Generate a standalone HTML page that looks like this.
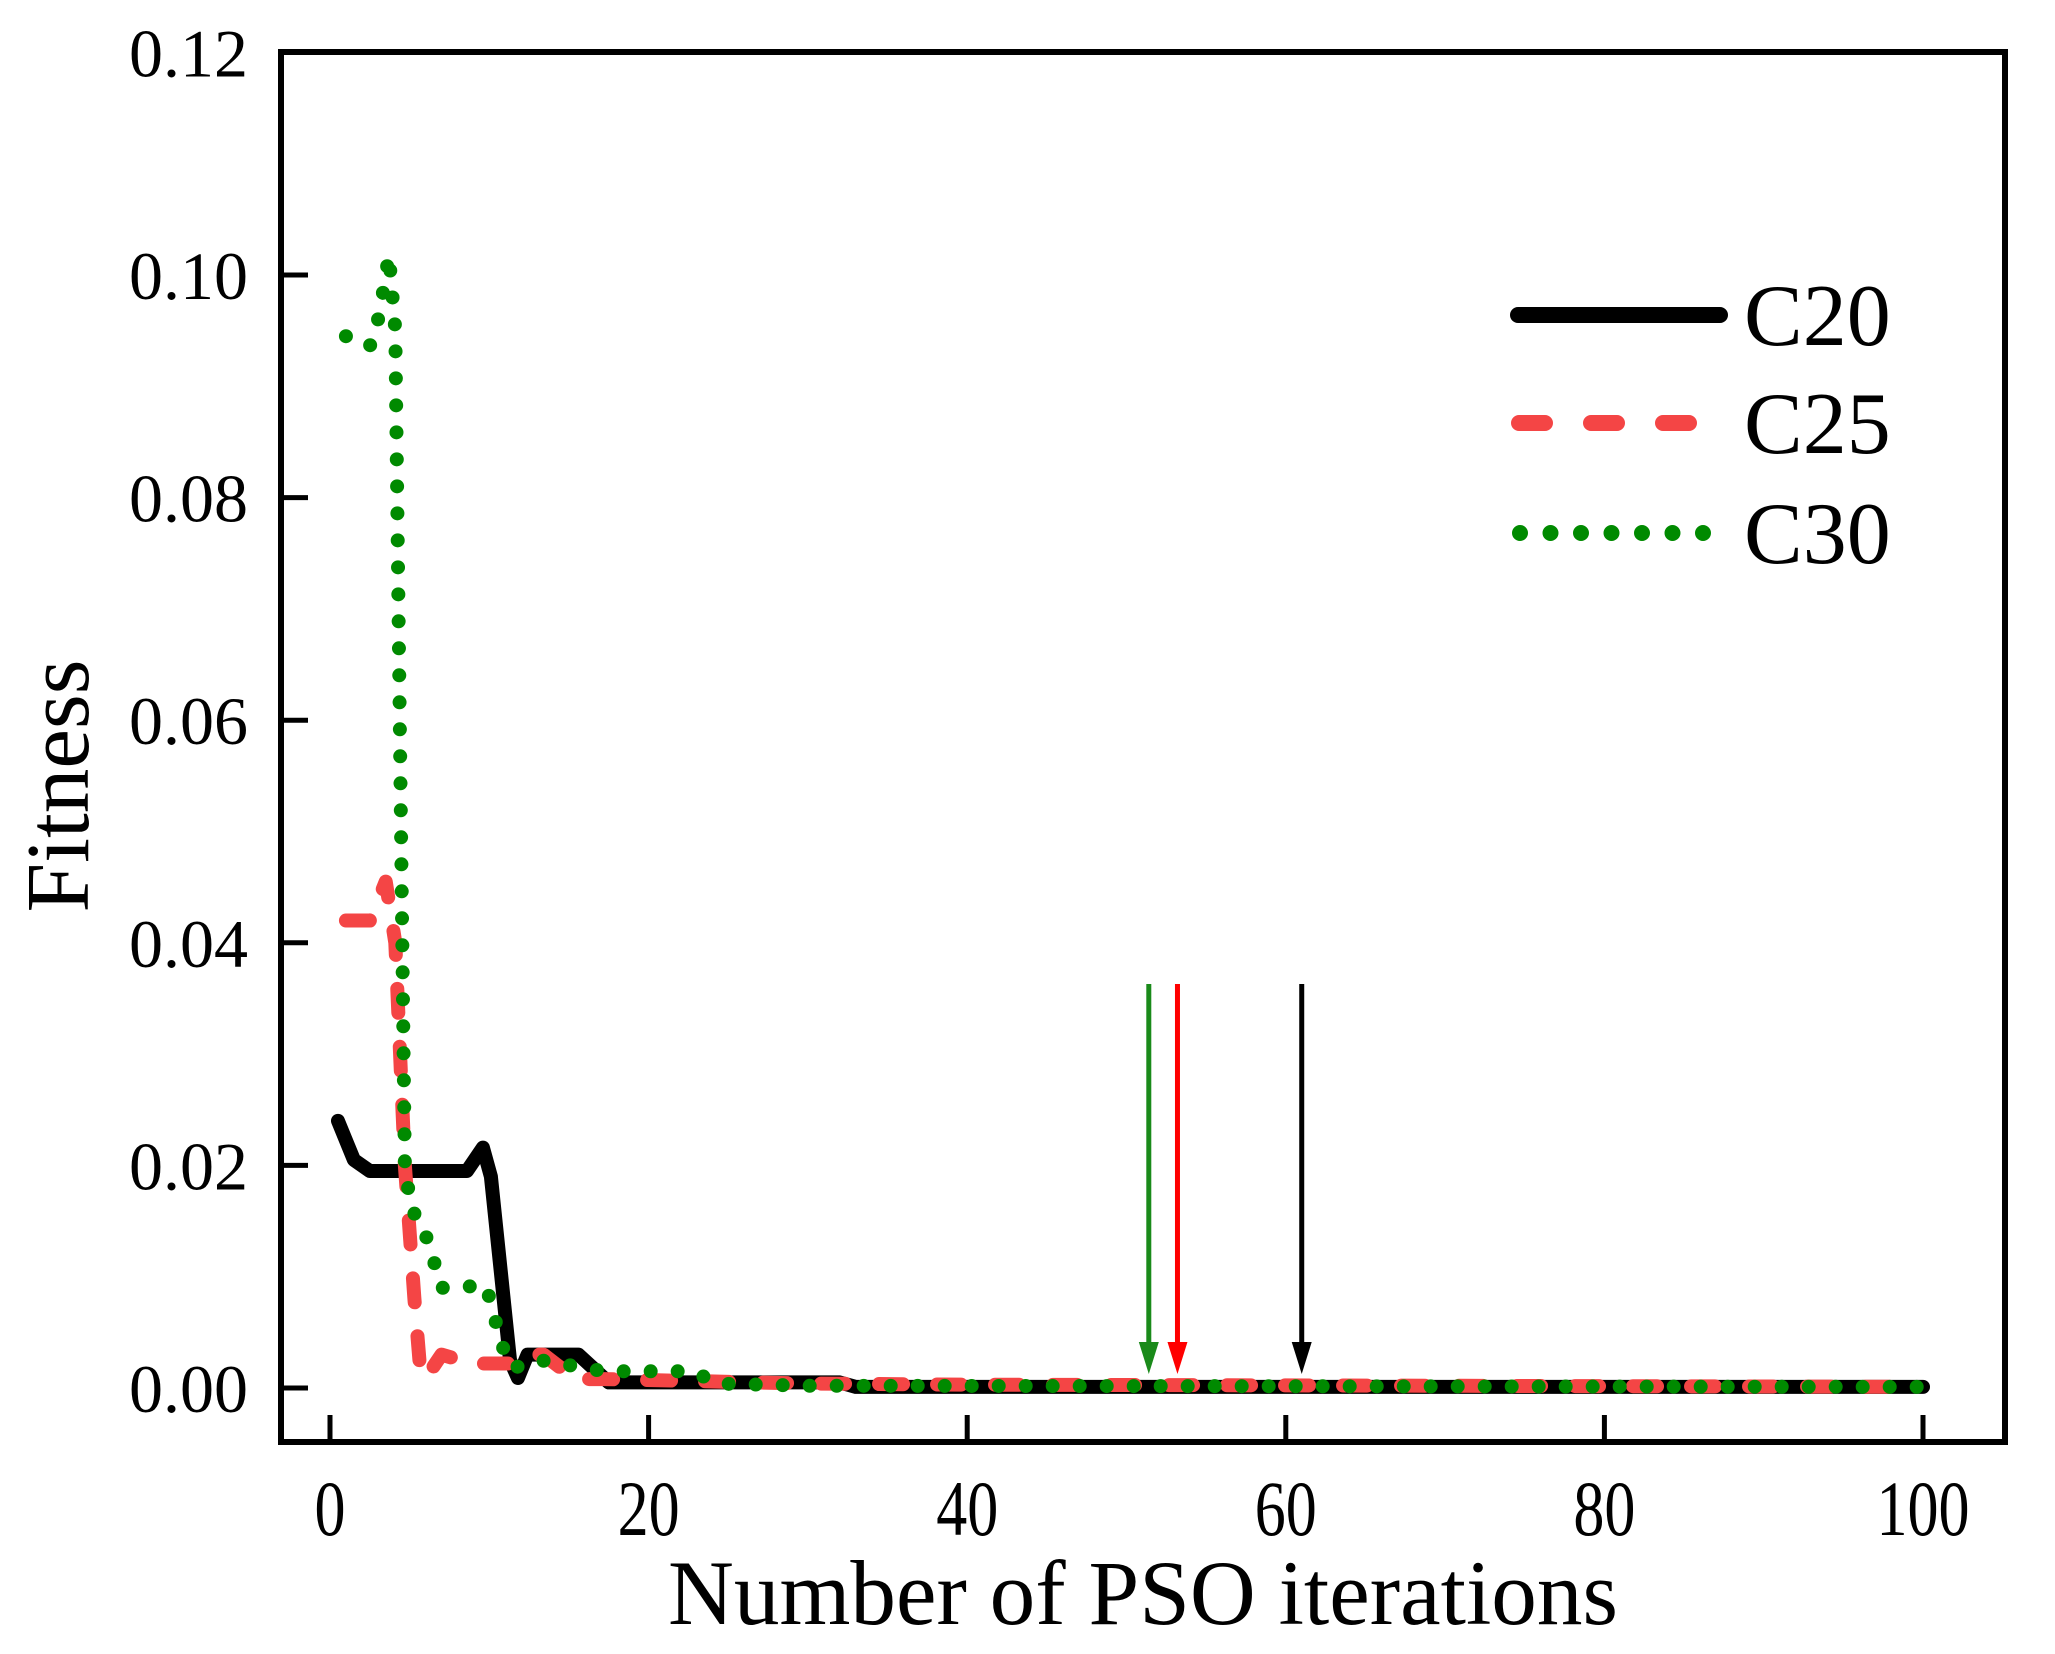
<!DOCTYPE html>
<html><head><meta charset="utf-8"><style>
html,body{margin:0;padding:0;background:#fff;}
svg{display:block;font-family:"Liberation Serif",serif;}
</style></head><body>
<svg id="chart" width="2055" height="1654" viewBox="0 0 2055 1654" xmlns="http://www.w3.org/2000/svg">
<rect x="0" y="0" width="2055" height="1654" fill="#fff"/>
<g id="series"></g>
<g id="axes"></g>
<text x="1143" y="1624" font-size="92" text-anchor="middle" textLength="950" lengthAdjust="spacingAndGlyphs">Number of PSO iterations</text>
<text transform="translate(88,786) rotate(-90)" font-size="90" text-anchor="middle" textLength="253" lengthAdjust="spacingAndGlyphs">Fitness</text>
<g>
<line x1="1518" y1="315" x2="1720" y2="315" stroke="#000" stroke-width="16" stroke-linecap="round"/>
<text x="1744" y="345" font-size="88">C20</text>
<line x1="1519" y1="423" x2="1697" y2="423" stroke="#f44545" stroke-width="16" stroke-linecap="round" stroke-dasharray="26 46"/>
<text x="1744" y="453" font-size="88">C25</text>
<line x1="1520" y1="533" x2="1713" y2="533" stroke="#008a00" stroke-width="16" stroke-linecap="round" stroke-dasharray="0 30.5"/>
<text x="1744" y="563" font-size="88">C30</text>
</g>
</svg>
<script>
const xTicks=[0,20,40,60,80,100];
const yTicks=[0,0.02,0.04,0.06,0.08,0.10,0.12];
const yTickLabels=["0.00","0.02","0.04","0.06","0.08","0.10","0.12"];
const c20X=[0.5,1.5,2.5,8.6,9.6,10.1,11.3,11.8,12.4,15.6,17.5,32,33,100];
const c20Y=[0.024,0.0205,0.0195,0.0195,0.0216,0.019,0.0025,0.0009,0.003,0.003,0.0005,0.0005,0.0001,0.0001];
const c25X=[1,2.5,3.5,4.1,4.4,4.7,5.3,5.7,6.2,7,8.9,11.3,12.2,13.4,15.4,17.2,30,40,100];
const c25Y=[0.042,0.042,0.0455,0.04,0.03,0.02,0.008,0.001,0.0013,0.003,0.0022,0.0022,0.003,0.003,0.0008,0.0008,0.0004,0.0003,0.0001];
const c30X=[1,2.5,3.1,3.7,4.1,4.7,5.1,5.7,6.3,7,9.8,10.3,10.8,11.5,13.2,17.2,22.8,24.3,30,100];
const c30Y=[0.0945,0.0936,0.0964,0.1018,0.0951,0.02,0.016,0.015,0.0125,0.009,0.0092,0.0065,0.0038,0.0018,0.0025,0.0015,0.0015,0.0004,0.0002,0.0001];
const arrowX=[51.4,53.2,61.0];
const arrowColors=["#1a8a1a","#ff0000","#000000"];
const arrowTop=0.0363;

const L=281,R=2005,T=52,B=1442;
const X=v=>330+v*15.93;
const Y=v=>1388-v*11130;
const NS="http://www.w3.org/2000/svg";
const axes=document.getElementById('axes');
const series=document.getElementById('series');
function mk(tag,attrs,parent){const e=document.createElementNS(NS,tag);for(const k in attrs)e.setAttribute(k,attrs[k]);parent.appendChild(e);return e;}

const frame=mk('rect',{x:L,y:T,width:R-L,height:B-T,fill:'none',stroke:'#000','stroke-width':6},axes);


xTicks.forEach(t=>{
  const l=mk('line',{x1:X(t),y1:B,x2:X(t),y2:B-27,stroke:'#000','stroke-width':5},axes);
  
  
  const s=String(t);
  const tx=mk('text',{x:X(t),y:1535,'font-size':78,'text-anchor':'middle',textLength:s.length*31,lengthAdjust:'spacingAndGlyphs'},axes);
  tx.textContent=s;
  
  
});
yTicks.forEach((t,i)=>{
  if(i<yTicks.length-1){
  const l=mk('line',{x1:L,y1:Y(t),x2:L+27,y2:Y(t),stroke:'#000','stroke-width':5},axes);
  
  }
  const tx=mk('text',{x:248,y:Y(t)+24,'font-size':68,'text-anchor':'end'},axes);
  tx.textContent=yTickLabels[i];
  
  
});
function pts(xs,ys){return xs.map((x,i)=>X(x)+','+Y(ys[i])).join(' ');}
const s20=mk('polyline',{points:pts(c20X,c20Y),fill:'none',stroke:'#000','stroke-width':14,'stroke-linejoin':'round','stroke-linecap':'round'},series);


const s25=mk('polyline',{points:pts(c25X,c25Y),fill:'none',stroke:'#f44545','stroke-width':14,'stroke-linejoin':'round','stroke-linecap':'round','stroke-dasharray':'24 34'},series);


const s30=mk('polyline',{points:pts(c30X,c30Y),fill:'none',stroke:'#008a00','stroke-width':14,'stroke-linejoin':'round','stroke-linecap':'round','stroke-dasharray':'0 27'},series);


arrowX.forEach((a,i)=>{
  const g=mk('g',{},series);
  
  
  const x=X(a);
  mk('line',{x1:x,y1:Y(arrowTop),x2:x,y2:1360,stroke:arrowColors[i],'stroke-width':5},g);
  mk('polygon',{points:`${x-10},1342 ${x+10},1342 ${x},1374`,fill:arrowColors[i]},g);
});
</script>
</body></html>
